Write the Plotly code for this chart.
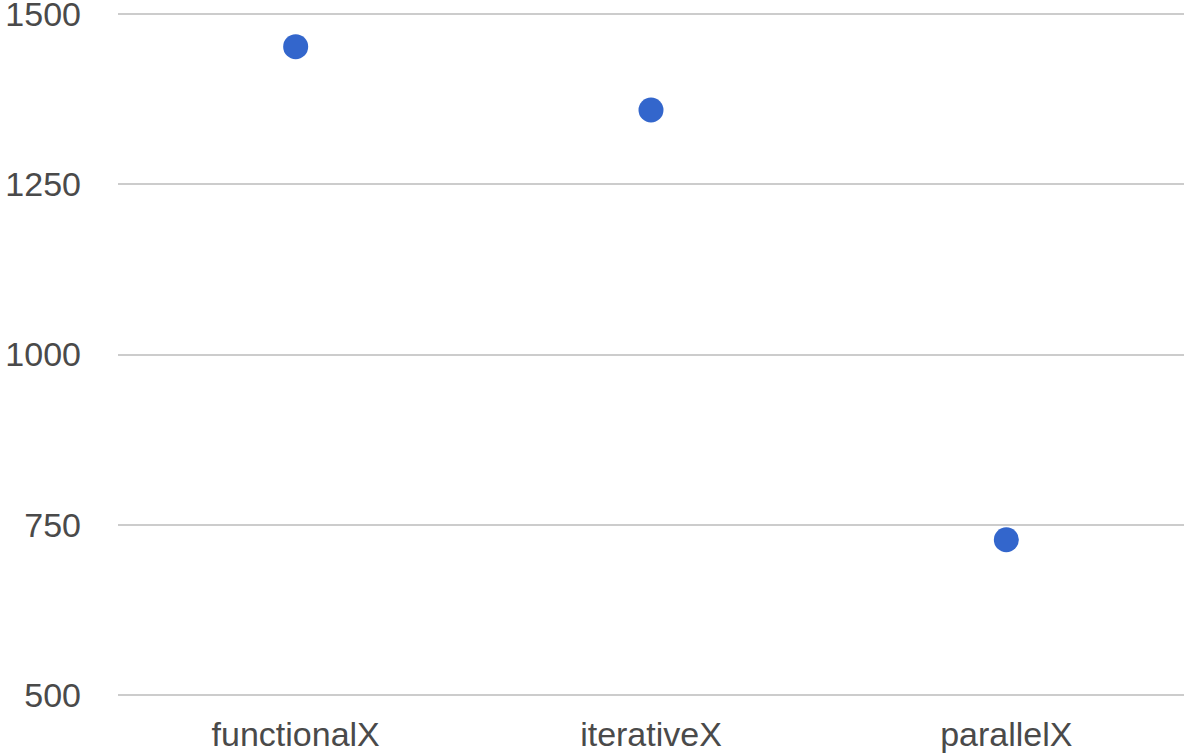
import plotly.graph_objects as go

# Benchmark results per implementation
categories = ["functionalX", "iterativeX", "parallelX"]
values = [1452, 1359, 728]
y_ticks = [500, 750, 1000, 1250, 1500]

fig = go.Figure(
    go.Scatter(
        x=categories,
        y=values,
        mode="markers",
        marker=dict(color="#3366cc", size=25, line=dict(width=0)),
        showlegend=False,
        hoverinfo="x+y",
    )
)

label_font = dict(family="Liberation Sans, Arial, sans-serif", size=34, color="#4a4a4a")

fig.update_layout(
    width=1184,
    height=755,
    margin=dict(l=118, r=0, t=4, b=50),
    paper_bgcolor="white",
    plot_bgcolor="white",
    xaxis=dict(
        type="category",
        range=[-0.5, 2.5],
        automargin=False,
        showgrid=False,
        zeroline=False,
        showline=False,
        ticks="",
        ticklabelstandoff=6,
        tickfont=label_font,
    ),
    yaxis=dict(
        range=[485.3, 1514.7],
        automargin=False,
        tickvals=y_ticks,
        ticktext=[str(v) for v in y_ticks],
        showgrid=True,
        gridcolor="#cccccc",
        gridwidth=2,
        zeroline=False,
        showline=False,
        ticks="",
        ticklabelstandoff=36,
        ticklabeloverflow="allow",
        tickfont=label_font,
    ),
)

fig.write_html("out.html")
